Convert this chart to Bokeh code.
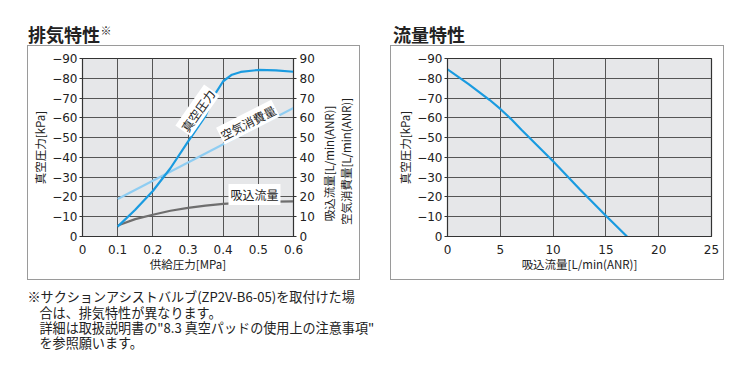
import math
from bokeh.plotting import figure
from bokeh.models import LinearAxis, Range1d, FixedTicker, Label, Spacer
from bokeh.layouts import row, column
from bokeh.embed import file_html
from bokeh.resources import INLINE

# ---------------- data ----------------
# 排気特性 (exhaust characteristics)
supply_pressure = [0.1, 0.15, 0.2, 0.25, 0.3, 0.35, 0.375, 0.4, 0.425, 0.45, 0.5, 0.55, 0.6]
vacuum_pressure = [5, 13.5, 23, 34.5, 48, 61, 71.5, 78.5, 81.8, 83.2, 84.2, 84.0, 83.3]
suction_x = [0.1, 0.15, 0.2, 0.25, 0.3, 0.35, 0.4, 0.45, 0.5, 0.55, 0.6]
suction_flow = [5.6, 8.8, 11, 13, 14.5, 15.6, 16.5, 17, 17.3, 17.6, 17.8]
air_x = [0.1, 0.6]
air_consumption = [19, 65]

# 流量特性 (flow characteristics)
flow_rate = [0, 2, 4, 5, 6, 7, 10, 12.5, 15, 17]
flow_vacuum = [84.5, 77, 69, 64.5, 59.5, 54, 38, 24, 10.5, 0]

y_ticks = [0, 10, 20, 30, 40, 50, 60, 70, 80, 90]
y_left_labels = {t: ("0" if t == 0 else "\u2212" + str(t)) for t in y_ticks}
x_ticks_left = [0, 0.1, 0.2, 0.3, 0.4, 0.5, 0.6]
x_ticks_right = [0, 5, 10, 15, 20, 25]

titles = ["排気特性", "流量特性"]
right_axis_titles = ["吸込流量[L/min(ANR)]", "空気消費量[L/min(ANR)]"]
footnote = [
    "※サクションアシストバルブ(ZP2V-B6-05)を取付けた場",
    "合は、排気特性が異なります。",
    "詳細は取扱説明書の\"8.3 真空パッドの使用上の注意事項\"",
    "を参照願います。",
]

# ---------------- styles ----------------
JP = "Noto Sans CJK JP"
NUM = "DejaVu Sans"
BLUE = "#1a9be0"
LIGHT = "#8fcdf2"
GRAY = "#6e6e6e"
BG = "#e6e7e9"
GRID = "#555555"
TXT = "#222222"
BC = "#9a9a9a"
BOX_ALL = {"box-shadow": f"inset 0 0 0 1px {BC}"}
BOX_LTB = {"box-shadow": f"inset 1px 0 0 0 {BC}, inset 0 1px 0 0 {BC}, inset 0 -1px 0 0 {BC}"}
BOX_RTB = {"box-shadow": f"inset -1px 0 0 0 {BC}, inset 0 1px 0 0 {BC}, inset 0 -1px 0 0 {BC}"}


def style_axis(ax):
    ax.axis_line_color = "#333333"
    ax.major_tick_line_color = "#333333"
    ax.minor_tick_line_color = None
    ax.major_label_text_font = NUM
    ax.major_label_text_font_size = "12px"
    ax.major_label_text_color = TXT
    ax.axis_label_text_font = JP
    ax.axis_label_text_font_size = "11.5px"
    ax.axis_label_text_font_style = "normal"
    ax.axis_label_text_color = TXT


def make_fig(width, left, right, xmax, xticks, styles):
    p = figure(width=width, height=235, x_range=Range1d(0, xmax), y_range=Range1d(0, 90),
               output_backend="svg", toolbar_location=None,
               min_border_left=left, min_border_right=right,
               min_border_top=13, min_border_bottom=44,
               background_fill_color=BG, border_fill_color=None,
               outline_line_color="#333333", outline_line_width=1.2,
               styles=styles)
    p.xaxis.ticker = FixedTicker(ticks=xticks)
    p.yaxis.ticker = FixedTicker(ticks=y_ticks)
    p.yaxis.major_label_overrides = y_left_labels
    p.xaxis.major_label_overrides = {0: "0"}
    for ax in p.xaxis + p.yaxis:
        style_axis(ax)
    p.xaxis.major_tick_out = 0
    p.xaxis.major_tick_in = 0
    p.xaxis.major_label_standoff = 8
    p.xaxis.axis_label_standoff = -1
    p.yaxis.major_tick_out = 3
    p.yaxis.major_tick_in = 0
    p.yaxis.major_label_standoff = 2
    p.yaxis.axis_label_standoff = 1
    p.xgrid.grid_line_color = GRID
    p.ygrid.grid_line_color = GRID
    p.xgrid.grid_line_width = 1
    p.ygrid.grid_line_width = 1
    return p


def text_fig(width, height, styles=None):
    f = figure(width=width, height=height, x_range=Range1d(0, 1), y_range=Range1d(0, 1),
               output_backend="svg", toolbar_location=None, min_border=0,
               x_axis_type=None, y_axis_type=None, outline_line_color=None,
               background_fill_color=None, border_fill_color=None,
               styles=styles or {})
    f.grid.visible = False
    return f


def screen_text(p, x, y, text, size="12px", font=JP, style="normal", align="left",
                baseline="middle", angle=0.0):
    p.add_layout(Label(x=x, y=y, x_units="screen", y_units="screen", text=text,
                       text_font=font, text_font_size=size, text_font_style=style,
                       text_color=TXT, text_align=align, text_baseline=baseline,
                       angle=angle))


# ---------------- header (titles) ----------------
head = text_fig(745, 45)
screen_text(head, 27.5, 45 - 33, titles[0], size="18px", style="bold")
screen_text(head, 100, 45 - 29, "※", size="11px")
screen_text(head, 392.5, 45 - 33, titles[1], size="18px", style="bold")

# ---------------- left chart ----------------
p1 = make_fig(293, 55, 27, 0.6, x_ticks_left, BOX_LTB)
p1.xaxis.axis_label = "供給圧力[MPa]"
p1.yaxis.axis_label = "真空圧力[kPa]"
p1.extra_y_ranges = {"flow": Range1d(0, 90)}
rax = LinearAxis(y_range_name="flow", ticker=FixedTicker(ticks=y_ticks))
style_axis(rax)
rax.major_tick_out = 3
rax.major_tick_in = 0
rax.major_label_standoff = 3
p1.add_layout(rax, "right")

p1.line(air_x, air_consumption, y_range_name="flow", line_color=LIGHT, line_width=2.2)
p1.line(suction_x, suction_flow, y_range_name="flow", line_color=GRAY, line_width=2.2)
p1.line(supply_pressure, vacuum_pressure, line_color=BLUE, line_width=2.2)

p1.add_layout(Label(x=0.327, y=63.7, text="真空圧力", angle=math.radians(55),
                    text_font=JP, text_font_size="12px", text_color=TXT,
                    text_align="center", text_baseline="middle",
                    background_fill_color="white", padding=1))
p1.add_layout(Label(x=0.4706, y=57.8, text="空気消費量", angle=math.radians(27),
                    text_font=JP, text_font_size="12px", text_color=TXT,
                    text_align="center", text_baseline="middle",
                    background_fill_color="white", padding=1))
p1.add_layout(Label(x=0.489, y=21.2, y_range_name="flow", text="吸込流量",
                    text_font=JP, text_font_size="12px", text_color=TXT,
                    text_align="center", text_baseline="middle",
                    background_fill_color="white", padding=2))

# right-hand axis titles (read bottom to top); this panel's frame is aligned
# with the chart's frame (page y 58..236), so y is measured up from page y 236
rlab = text_fig(40, 235, BOX_RTB)
screen_text(rlab, 8, 236 - 163, right_axis_titles[0], size="11.5px", align="center",
            angle=math.pi / 2)
screen_text(rlab, 25, 236 - 161, right_axis_titles[1], size="11.5px", align="center",
            angle=math.pi / 2)

# ---------------- right chart ----------------
p2 = make_fig(334, 57, 13, 25, x_ticks_right, BOX_ALL)
p2.xaxis.axis_label = "吸込流量[L/min(ANR)]"
p2.yaxis.axis_label = "真空圧力[kPa]"
p2.line(flow_rate, flow_vacuum, line_color=BLUE, line_width=2.2)

# ---------------- footnote ----------------
foot = text_fig(745, 88)
screen_text(foot, 27, 368 - 296, footnote[0], size="13.1px")
screen_text(foot, 39, 368 - 312, footnote[1], size="13.1px")
screen_text(foot, 39, 368 - 327, footnote[2], size="13.1px")
screen_text(foot, 39, 368 - 342, footnote[3], size="13.1px")

layout = column(head,
                row(Spacer(width=27, height=235), p1, rlab, Spacer(width=30, height=235), p2),
                foot)
open("out.html", "w").write(file_html(layout, INLINE))
